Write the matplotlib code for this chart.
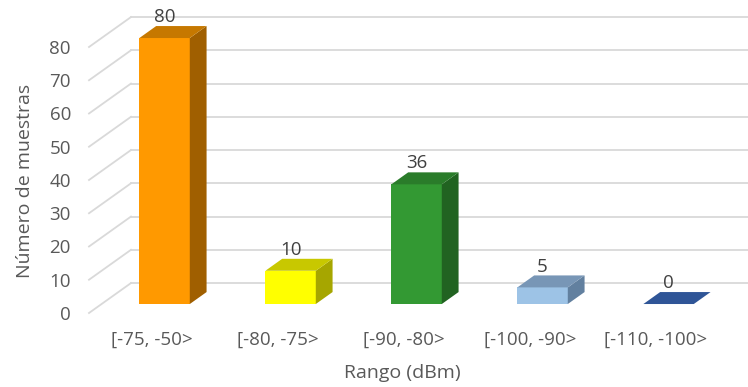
import matplotlib
matplotlib.use("Agg")
import matplotlib.pyplot as plt
from matplotlib.patches import Polygon

categories = ["[-75, -50>", "[-80, -75>", "[-90, -80>", "[-100, -90>", "[-110, -100>"]
counts = [80, 10, 36, 5, 0]
front_colors = ["#FF9900", "#FFFF00", "#339933", "#9DC3E6", "#2F5597"]
top_colors = ["#C67800", "#C8C800", "#2A7C2A", "#7896B6", "#2F5597"]
side_colors = ["#A05F00", "#A6A600", "#216321", "#62809F", "#2F5597"]
yticks = list(range(0, 90, 10))

TEXT = "#595959"
GRID = "#D9D9D9"
FONT = "Open Sans"

# oblique depth of the plot box, in data units (x: category, y: count)
DX, DY = 0.333, 9.0
BAR_W = 0.40
F0, FD = 0.3, 0.4  # bar starts 30% into the depth, 40% deep

W, H = 748, 387
fig = plt.figure(figsize=(W / 100, H / 100), dpi=100)
ax = fig.add_axes([89 / W, (H - 313) / H, 630 / W, 266 / H])
ax.set_xlim(-0.5, 4.5)
ax.set_ylim(0, 80)
for s in ax.spines.values():
    s.set_visible(False)

# back wall gridlines plus the short diagonals to the front edge
for v in yticks:
    ax.plot([-0.5, -0.5 + DX], [v, v + DY], color=GRID, lw=1.3, clip_on=False, zorder=1)
    ax.plot([-0.5 + DX, 5.0], [v + DY, v + DY], color=GRID, lw=1.3, clip_on=False, zorder=1)

ox, oy = F0 * DX, F0 * DY
bx, by = FD * DX, FD * DY
for i, v in enumerate(counts):
    xl = i + ox - BAR_W / 2
    xr = i + ox + BAR_W / 2
    y0 = oy
    if v > 0:
        ax.bar(i + ox, v, width=BAR_W, bottom=y0, color=front_colors[i],
               clip_on=False, zorder=3)
        side = Polygon([(xr, y0), (xr + bx, y0 + by), (xr + bx, y0 + by + v), (xr, y0 + v)],
                       closed=True, facecolor=side_colors[i], edgecolor="none",
                       clip_on=False, zorder=3)
        ax.add_patch(side)
    top = Polygon([(xl, y0 + v), (xr, y0 + v), (xr + bx, y0 + v + by), (xl + bx, y0 + v + by)],
                  closed=True, facecolor=top_colors[i], edgecolor="none",
                  clip_on=False, zorder=3)
    ax.add_patch(top)
    ax.annotate(str(v), (i + ox, y0 + v), xytext=(0, 15), textcoords="offset points",
                ha="center", va="center", fontsize=13.5, color="#404040",
                family=FONT, annotation_clip=False, zorder=4)

ax.set_xticks(range(len(categories)))
ax.set_xticklabels(categories)
ax.set_yticks(yticks)
ax.tick_params(length=0, labelsize=13.5, labelcolor=TEXT)
ax.tick_params(axis="y", pad=13)
ax.tick_params(axis="x", pad=13)
for lab in ax.get_xticklabels() + ax.get_yticklabels():
    lab.set_family(FONT)

fig.text(25 / W, 1 - 181 / H, "Número de muestras", rotation=90, ha="center", va="center",
         fontsize=14, color=TEXT, family=FONT)
fig.text(402 / W, 1 - 373 / H, "Rango (dBm)", ha="center", va="center",
         fontsize=14, color=TEXT, family=FONT)

fig.savefig("out.png", dpi=100)
